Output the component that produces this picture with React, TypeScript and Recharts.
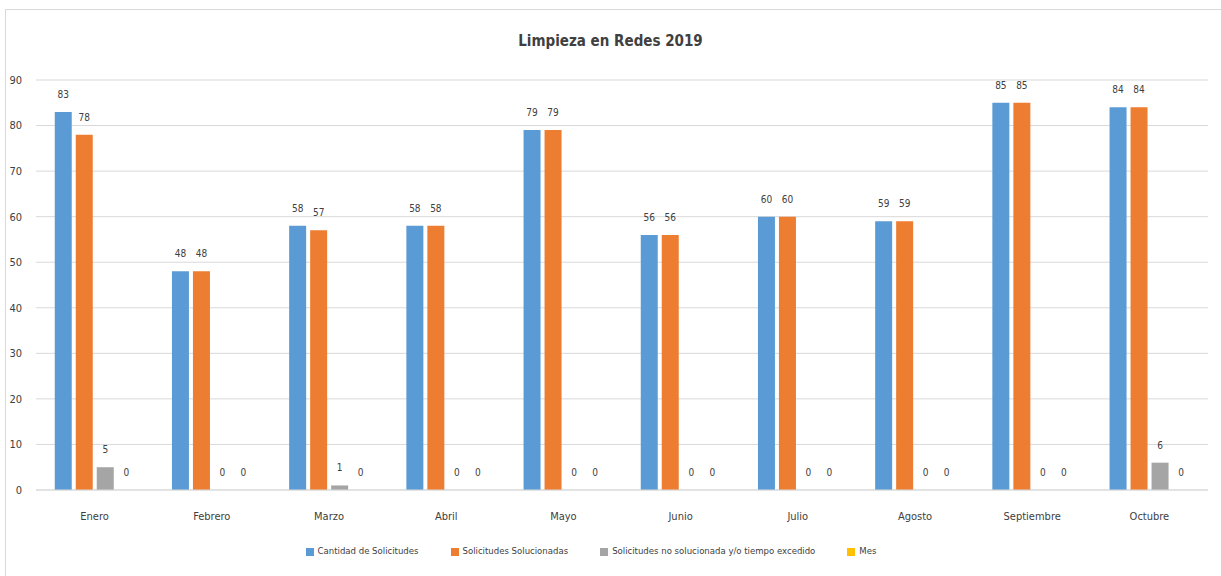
import React from 'react';
import { BarChart, Bar, XAxis, YAxis, CartesianGrid, Legend, LabelList } from 'recharts';

const months = ['Enero', 'Febrero', 'Marzo', 'Abril', 'Mayo', 'Junio', 'Julio', 'Agosto', 'Septiembre', 'Octubre'];
const cantidad = [83, 48, 58, 58, 79, 56, 60, 59, 85, 84];
const solucionadas = [78, 48, 57, 58, 79, 56, 60, 59, 85, 84];
const noSolucionadas = [5, 0, 1, 0, 0, 0, 0, 0, 0, 6];
const mes = [0, 0, 0, 0, 0, 0, 0, 0, 0, 0];
const yTicks = [0, 10, 20, 30, 40, 50, 60, 70, 80, 90];
const seriesNames = [
  'Cantidad de Solicitudes',
  'Solicitudes Solucionadas',
  'Solicitudes no solucionada y/o tiempo excedido',
  'Mes',
];

const data = months.map((m, i) => ({
  month: m,
  cantidad: cantidad[i],
  solucionadas: solucionadas[i],
  noSolucionadas: noSolucionadas[i],
  mes: mes[i],
}));

const FONT = '"Liberation Sans Narrow", "DejaVu Sans Condensed", "Liberation Sans", sans-serif';

const renderLabel = (props: any) => {
  const { x, y, width, height, value } = props;
  const h = Math.abs(Number(height || 0)) < 1 ? 0 : Number(height || 0);
  const top = Math.min(Number(y), Number(y) + h);
  return (
    <text
      x={Number(x) + Number(width) / 2}
      y={top - 14}
      textAnchor="middle"
      fontSize={10}
      fill="#404040"
      fontFamily={FONT}
    >
      {value}
    </text>
  );
};

const tinyForZero = (v: any) => (Number(v) === 0 ? 0.01 : 0);

export default function App() {
  return (
    <div style={{ position: 'absolute', left: 0, top: 0, width: 1221, height: 576, overflow: 'hidden', background: '#fff', fontFamily: FONT }}>
      <div style={{ position: 'absolute', left: 5, top: 9, width: 1240, height: 600, border: '1px solid #d9d9d9', boxSizing: 'border-box' }} />
      <div style={{ position: 'absolute', left: 0, width: 1221, top: 32, textAlign: 'center', fontSize: 15, fontWeight: 'bold', color: '#404040', fontFamily: FONT }}>
        Limpieza en Redes 2019
      </div>
      <BarChart
        width={1221}
        height={576}
        data={data}
        margin={{ top: 80, right: 13, left: 6, bottom: 45 }}
        barGap={4}
        barCategoryGap="16%"
      >
        <CartesianGrid vertical={false} stroke="#d9d9d9" />
        <XAxis
          dataKey="month"
          height={30}
          tickLine={false}
          axisLine={{ stroke: '#d9d9d9' }}
          tick={{ fontSize: 11, fill: '#404040', fontFamily: FONT }}
          tickMargin={16}
        />
        <YAxis
          width={30}
          domain={[0, 90]}
          ticks={yTicks}
          axisLine={false}
          tickLine={false}
          tick={{ fontSize: 11, fill: '#404040', fontFamily: FONT }}
          tickMargin={8}
        />
        <Legend
          verticalAlign="bottom"
          iconType="square"
          iconSize={8}
          itemSorter={(item: any) => seriesNames.indexOf(item.value)}
          wrapperStyle={{ top: 545, fontSize: 9.5, fontFamily: FONT, color: '#404040' }}
          formatter={(v) => <span style={{ color: '#404040', marginRight: 22 }}>{v}</span>}
        />
        <Bar dataKey="cantidad" name={seriesNames[0]} fill="#5B9BD5" isAnimationActive={false}>
          <LabelList dataKey="cantidad" content={renderLabel} />
        </Bar>
        <Bar dataKey="solucionadas" name={seriesNames[1]} fill="#ED7D31" isAnimationActive={false}>
          <LabelList dataKey="solucionadas" content={renderLabel} />
        </Bar>
        <Bar dataKey="noSolucionadas" name={seriesNames[2]} fill="#A5A5A5" minPointSize={tinyForZero} isAnimationActive={false}>
          <LabelList dataKey="noSolucionadas" content={renderLabel} />
        </Bar>
        <Bar dataKey="mes" name={seriesNames[3]} fill="#FFC000" minPointSize={tinyForZero} isAnimationActive={false}>
          <LabelList dataKey="mes" content={renderLabel} />
        </Bar>
      </BarChart>
    </div>
  );
}
